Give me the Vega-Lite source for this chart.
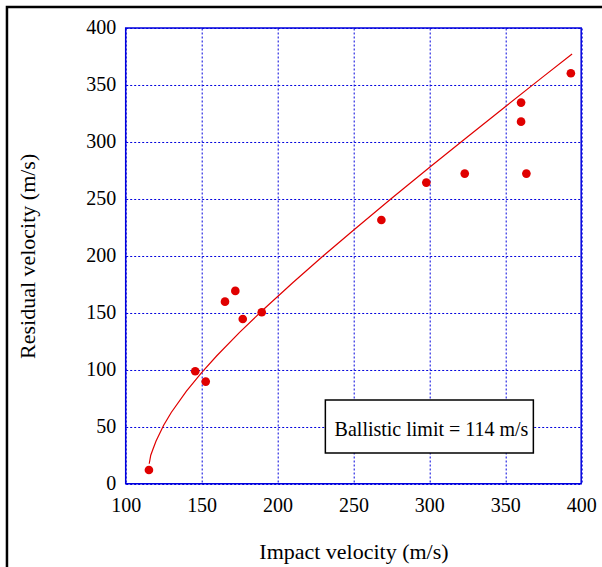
{
  "$schema": "https://vega.github.io/schema/vega-lite/v6.json",
  "autosize": {"type": "none"},
  "width": 455.5,
  "height": 455.7,
  "padding": {"left": 125.7, "top": 28, "right": 21, "bottom": 83},
  "background": "white",
  "config": {
    "view": {"stroke": "#0000dd", "strokeWidth": 1.5},
    "axis": {
      "labelFont": "Liberation Serif",
      "titleFont": "Liberation Serif",
      "labelFontSize": 20,
      "titleFontSize": 22,
      "titleFontWeight": "normal",
      "labelColor": "black",
      "titleColor": "black",
      "labelFlush": false,
      "grid": true,
      "gridColor": "#0000dd",
      "gridDash": [2, 2],
      "gridWidth": 1,
      "gridOpacity": 1,
      "domain": false,
      "ticks": false
    }
  },
  "datasets": {
    "pts": [
      {"vi": 115.3, "vr": 12.0},
      {"vi": 145.8, "vr": 98.7},
      {"vi": 152.7, "vr": 89.6},
      {"vi": 165.4, "vr": 159.8},
      {"vi": 172.2, "vr": 169.2},
      {"vi": 177.1, "vr": 144.6},
      {"vi": 189.6, "vr": 150.5},
      {"vi": 268.4, "vr": 231.5},
      {"vi": 298.0, "vr": 264.3},
      {"vi": 323.3, "vr": 272.2},
      {"vi": 360.4, "vr": 334.5},
      {"vi": 360.4, "vr": 317.8},
      {"vi": 363.9, "vr": 272.2},
      {"vi": 393.2, "vr": 360.3}
    ],
    "fit": [
      {"vi": 115.5, "vr": 17.5},
      {"vi": 116.5, "vr": 25},
      {"vi": 118, "vr": 30.5},
      {"vi": 120, "vr": 37.5},
      {"vi": 125, "vr": 51.3},
      {"vi": 130, "vr": 62.5},
      {"vi": 140, "vr": 81.3},
      {"vi": 150, "vr": 97.5},
      {"vi": 160, "vr": 112.3},
      {"vi": 175, "vr": 132.8},
      {"vi": 190, "vr": 152},
      {"vi": 210, "vr": 176.4},
      {"vi": 230, "vr": 199.8},
      {"vi": 250, "vr": 222.5},
      {"vi": 275, "vr": 250.3},
      {"vi": 300, "vr": 277.5},
      {"vi": 325, "vr": 304.4},
      {"vi": 350, "vr": 330.9},
      {"vi": 375, "vr": 357.3},
      {"vi": 394, "vr": 377.1}
    ],
    "frame": [{"x1": 21.8, "x2": 430, "y1": 418.5, "y2": -90}],
    "box": [{"x1": 231.5, "x2": 368.5, "y1": 73.5, "y2": 26.9, "tx": 301.4, "ty": 47.5, "label": "Ballistic limit = 114 m/s"}]
  },
  "layer": [
    {
      "data": {"name": "fit"},
      "mark": {"type": "line", "color": "#e00000", "strokeWidth": 1.2, "clip": true},
      "encoding": {
        "x": {"field": "vi", "type": "quantitative", "scale": {"domain": [100, 400], "nice": false},
          "axis": {"values": [100, 150, 200, 250, 300, 350, 400], "title": "Impact velocity (m/s)", "labelPadding": 12, "titlePadding": 26}},
        "y": {"field": "vr", "type": "quantitative", "scale": {"domain": [0, 400], "nice": false},
          "axis": {"values": [0, 50, 100, 150, 200, 250, 300, 350, 400], "title": "Residual velocity (m/s)", "labelPadding": 10, "titlePadding": 46}},
        "order": {"field": "vi", "type": "quantitative"}
      }
    },
    {
      "data": {"name": "pts"},
      "mark": {"type": "circle", "color": "#e00000", "size": 75, "opacity": 1},
      "encoding": {
        "x": {"field": "vi", "type": "quantitative"},
        "y": {"field": "vr", "type": "quantitative"}
      }
    },
    {
      "data": {"name": "box"},
      "mark": {"type": "rect", "fill": "white", "stroke": "black", "strokeWidth": 1.5},
      "encoding": {
        "x": {"field": "x1", "type": "quantitative"},
        "x2": {"field": "x2"},
        "y": {"field": "y1", "type": "quantitative"},
        "y2": {"field": "y2"}
      }
    },
    {
      "data": {"name": "box"},
      "mark": {"type": "text", "font": "Liberation Serif", "fontSize": 20, "color": "black", "align": "center", "baseline": "middle"},
      "encoding": {
        "x": {"field": "tx", "type": "quantitative"},
        "y": {"field": "ty", "type": "quantitative"},
        "text": {"field": "label"}
      }
    },
    {
      "data": {"name": "frame"},
      "mark": {"type": "rect", "fill": null, "fillOpacity": 0, "stroke": "black", "strokeWidth": 2.5, "clip": false},
      "encoding": {
        "x": {"field": "x1", "type": "quantitative"},
        "x2": {"field": "x2"},
        "y": {"field": "y1", "type": "quantitative"},
        "y2": {"field": "y2"}
      }
    }
  ]
}
